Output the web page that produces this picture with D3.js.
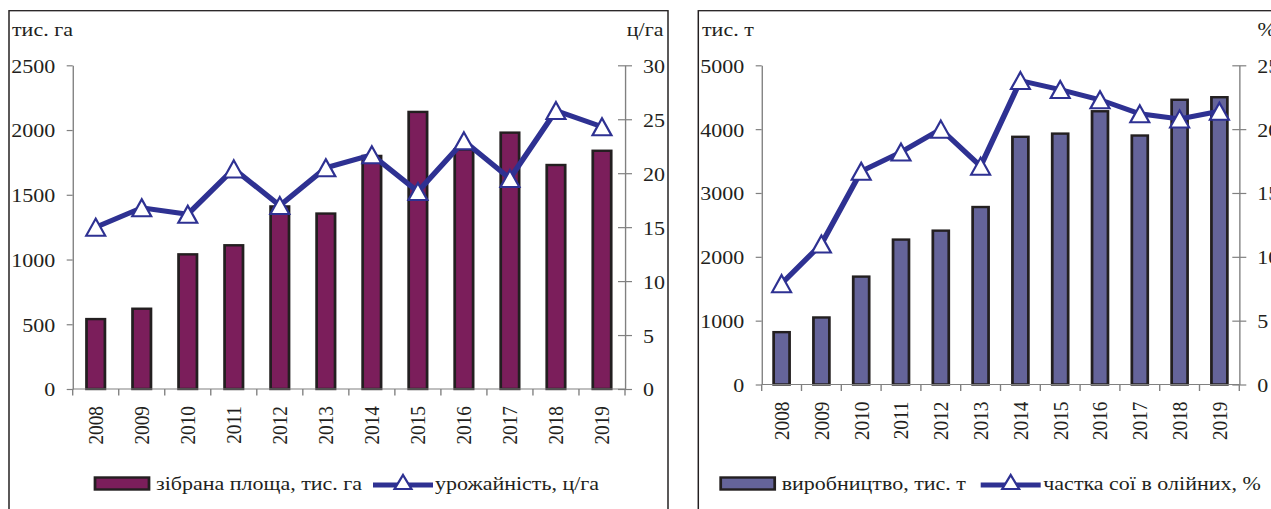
<!DOCTYPE html>
<html>
<head>
<meta charset="utf-8">
<script src="https://cdn.jsdelivr.net/npm/d3@7"></script>
<style>
	body { margin: 0; background: #fff; }
	svg text { font-family: "Liberation Serif", "Times New Roman", serif; fill: #231f20; }
</style>
</head>
<body>
<div id="chart"></div>
<script>
/* global d3 */

// Data
var years = ['2008', '2009', '2010', '2011', '2012', '2013', '2014', '2015', '2016', '2017', '2018', '2019'];
var areaValues = [540, 620, 1040, 1110, 1410, 1355, 1800, 2140, 1850, 1980, 1730, 1840];
var yieldValues = [15.0, 16.8, 16.2, 20.4, 17.0, 20.5, 21.7, 18.3, 23.0, 19.5, 25.8, 24.3];
var productionValues = [820, 1050, 1690, 2270, 2410, 2780, 3880, 3930, 4280, 3900, 4460, 4500];
var shareValues = [7.9, 11.0, 16.7, 18.2, 20.0, 17.1, 23.8, 23.1, 22.3, 21.2, 20.8, 21.4];
var areaTicks = [0, 500, 1000, 1500, 2000, 2500];
var yieldTicks = [0, 5, 10, 15, 20, 25, 30];
var productionTicks = [0, 1000, 2000, 3000, 4000, 5000];
var shareTicks = [0, 5, 10, 15, 20, 25];

// The source picture is stretched horizontally, so draw in a squeezed viewBox
var SX = 1.14,
	W = 1271,
	H = 509;
function X(px) { return px / SX; }

var lineColor = '#2e3192',
	inkColor = '#231f20',
	axisColor = '#808080',
	fontSize = '19.3px';

var panels = [
	{
		bars: areaValues, line: yieldValues, barTicks: areaTicks, lineTicks: yieldTicks,
		barColor: '#7b1e5b',
		frame: { x0: 9, y0: 10.7, x1: 668, y1: 540 },
		plot: { left: 72.7, right: 625, top: 65.3, bottom: 389 },
		leftUnit: 'тис. га', leftUnitX: 12, rightUnit: 'ц/га', rightUnitX: 663.5, rightUnitAnchor: 'end',
		barLabel: 'зібрана площа, тис. га', lineLabel: 'урожайність, ц/га',
		legend: { swatch: 95, swatchText: 156, line: 373, lineText: 435 }
	},
	{
		bars: productionValues, line: shareValues, barTicks: productionTicks, lineTicks: shareTicks,
		barColor: '#65649a',
		frame: { x0: 698.3, y0: 10.7, x1: 1300, y1: 540 },
		plot: { left: 761.7, right: 1239.3, top: 65.3, bottom: 384.5 },
		leftUnit: 'тис. т', leftUnitX: 702, rightUnit: '%', rightUnitX: 1257.5, rightUnitAnchor: 'start',
		barLabel: 'виробництво, тис. т', lineLabel: 'частка сої в олійних, %',
		legend: { swatch: 720.7, swatchText: 781.7, line: 980.7, lineText: 1043.3 }
	}
];

var svg = d3.select('#chart').append('svg')
	.attr('width', W)
	.attr('height', H)
	.attr('viewBox', '0 0 ' + (W / SX) + ' ' + H)
	.attr('preserveAspectRatio', 'none');

// Triangle marker path, centered on the point
function triangle(w, h) {
	return 'M0,' + (-h / 2) + 'L' + (w / 2) + ',' + (h / 2) + 'L' + (-w / 2) + ',' + (h / 2) + 'Z';
}

panels.forEach(function(p) {
	var g = svg.append('g');
	var left = X(p.plot.left),
		right = X(p.plot.right);

	// Frame
	g.append('rect')
		.attr('x', X(p.frame.x0))
		.attr('y', p.frame.y0)
		.attr('width', X(p.frame.x1 - p.frame.x0))
		.attr('height', p.frame.y1 - p.frame.y0)
		.attr('fill', 'none')
		.attr('stroke', inkColor)
		.attr('stroke-width', 1.3);

	var xScale = d3.scaleBand()
		.domain(years)
		.range([left, right])
		.paddingInner(0.6)
		.paddingOuter(0.3);
	var yBar = d3.scaleLinear()
		.domain([0, d3.max(p.barTicks)])
		.range([p.plot.bottom, p.plot.top]);
	var yLine = d3.scaleLinear()
		.domain([0, d3.max(p.lineTicks)])
		.range([p.plot.bottom, p.plot.top]);

	// Left axis
	var gLeft = g.append('g')
		.attr('transform', 'translate(' + left + ',0)')
		.call(d3.axisLeft(yBar).tickValues(p.barTicks).tickFormat(d3.format('d'))
			.tickSizeInner(X(6)).tickSizeOuter(0).tickPadding(X(11.5)));
	// Right axis (ticks cross the line)
	var gRight = g.append('g')
		.attr('transform', 'translate(' + right + ',0)')
		.call(d3.axisRight(yLine).tickValues(p.lineTicks).tickFormat(d3.format('d'))
			.tickSizeInner(X(7)).tickSizeOuter(0).tickPadding(X(11)));
	gRight.selectAll('.tick line').attr('x1', X(-7));

	[gLeft, gRight].forEach(function(ax) {
		ax.select('.domain').attr('stroke', axisColor).attr('stroke-width', 1.2);
		ax.selectAll('.tick line').attr('stroke', axisColor).attr('stroke-width', 1.2);
		ax.selectAll('text')
			.style('font-size', fontSize)
			.attr('fill', inkColor)
			.attr('dy', '0.36em');
	});

	// Bars
	g.append('g').selectAll('rect')
		.data(p.bars)
		.enter()
		.append('rect')
		.attr('x', function(d, i) { return xScale(years[i]); })
		.attr('width', xScale.bandwidth())
		.attr('y', function(d) { return yBar(d); })
		.attr('height', function(d) { return yBar(0) - yBar(d); })
		.attr('fill', p.barColor)
		.attr('stroke', inkColor)
		.attr('stroke-width', 2.4);

	// X axis line and boundary ticks
	var gX = g.append('g');
	gX.append('line')
		.attr('x1', left).attr('x2', right)
		.attr('y1', p.plot.bottom).attr('y2', p.plot.bottom)
		.attr('stroke', axisColor)
		.attr('stroke-width', 1.2);
	var step = xScale.step();
	var bounds = years.map(function(d) {
		return xScale(d) - step * xScale.paddingOuter();
	}).concat([right]);
	gX.selectAll('line.tick')
		.data(bounds)
		.enter()
		.append('line')
		.attr('class', 'tick')
		.attr('x1', function(d) { return d; })
		.attr('x2', function(d) { return d; })
		.attr('y1', p.plot.bottom)
		.attr('y2', p.plot.bottom + 6.5)
		.attr('stroke', axisColor)
		.attr('stroke-width', 1.2);
	gX.selectAll('text')
		.data(years)
		.enter()
		.append('text')
		.attr('transform', function(d) {
			return 'translate(' + (xScale(d) + xScale.bandwidth() / 2) + ',' + (p.plot.bottom + 17) + ') rotate(-90)';
		})
		.attr('text-anchor', 'end')
		.attr('dy', '0.34em')
		.style('font-size', fontSize)
		.text(function(d) { return d; });

	// Line series
	var lineGen = d3.line()
		.x(function(d, i) { return xScale(years[i]) + xScale.bandwidth() / 2; })
		.y(function(d) { return yLine(d); });
	g.append('path')
		.datum(p.line)
		.attr('d', lineGen)
		.attr('fill', 'none')
		.attr('stroke', lineColor)
		.attr('stroke-width', 5)
		.attr('stroke-linejoin', 'miter');
	g.append('g').selectAll('path')
		.data(p.line)
		.enter()
		.append('path')
		.attr('transform', function(d, i) {
			return 'translate(' + (xScale(years[i]) + xScale.bandwidth() / 2) + ',' + yLine(d) + ')';
		})
		.attr('d', triangle(X(19), 17))
		.attr('fill', '#fff')
		.attr('stroke', lineColor)
		.attr('stroke-width', 2);

	// Units
	g.append('text')
		.attr('x', X(p.leftUnitX))
		.attr('y', 36)
		.style('font-size', fontSize)
		.text(p.leftUnit);
	g.append('text')
		.attr('x', X(p.rightUnitX))
		.attr('y', 36)
		.attr('text-anchor', p.rightUnitAnchor)
		.style('font-size', fontSize)
		.text(p.rightUnit);

	// Legend
	var lg = g.append('g');
	lg.append('rect')
		.attr('x', X(p.legend.swatch))
		.attr('y', 477.5)
		.attr('width', X(54))
		.attr('height', 12)
		.attr('fill', p.barColor)
		.attr('stroke', inkColor)
		.attr('stroke-width', 2.4);
	lg.append('text')
		.attr('x', X(p.legend.swatchText))
		.attr('y', 490.5)
		.style('font-size', fontSize)
		.text(p.barLabel);
	lg.append('line')
		.attr('x1', X(p.legend.line))
		.attr('x2', X(p.legend.line + 60))
		.attr('y1', 485).attr('y2', 485)
		.attr('stroke', lineColor)
		.attr('stroke-width', 5);
	lg.append('path')
		.attr('transform', 'translate(' + X(p.legend.line + 30) + ',482)')
		.attr('d', triangle(X(17), 14))
		.attr('fill', '#fff')
		.attr('stroke', lineColor)
		.attr('stroke-width', 2);
	lg.append('text')
		.attr('x', X(p.legend.lineText))
		.attr('y', 490.5)
		.style('font-size', fontSize)
		.text(p.lineLabel);
});
</script>
</body>
</html>
